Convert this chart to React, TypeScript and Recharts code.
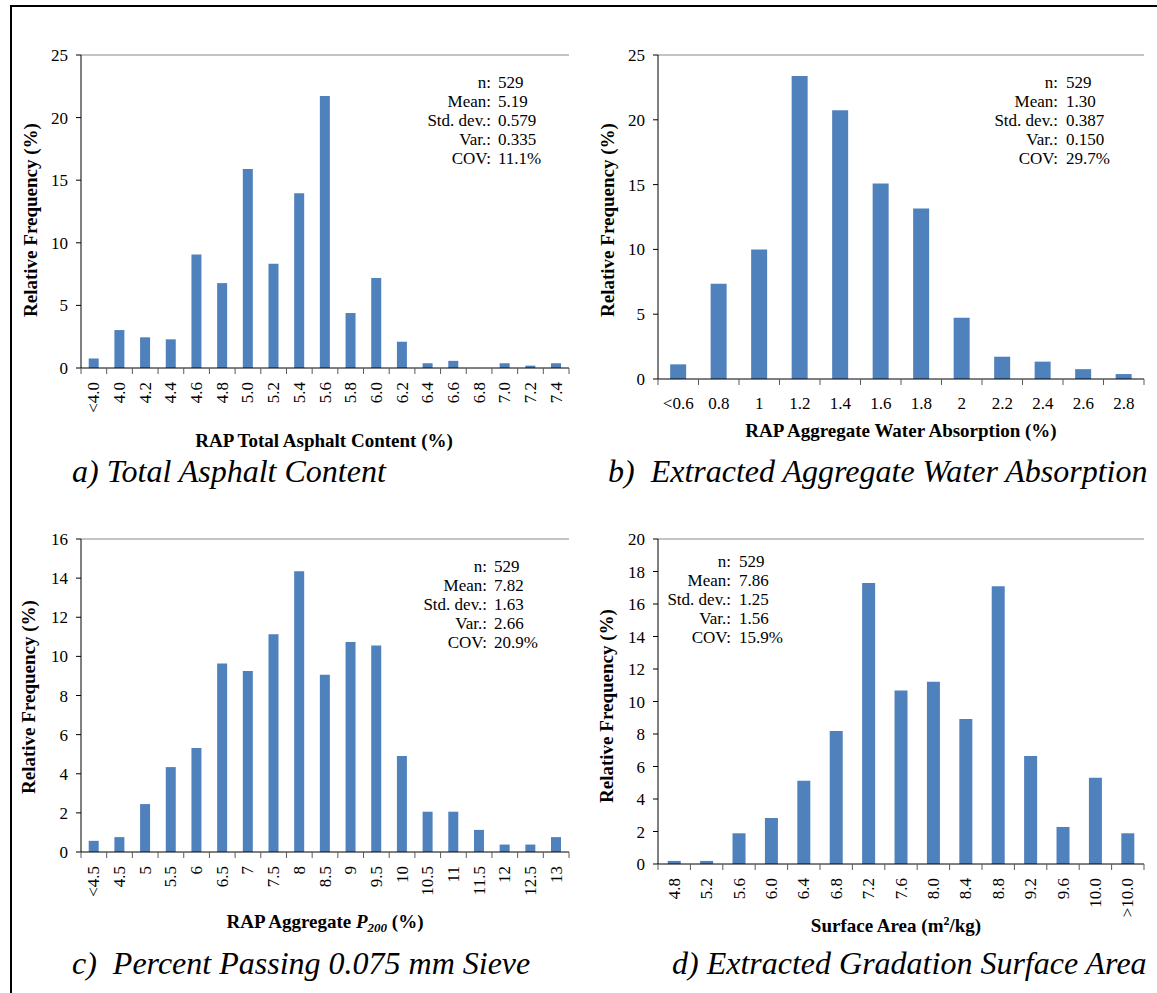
import React from 'react';
import { BarChart, Bar, XAxis, YAxis, ReferenceLine } from 'recharts';

const FONT = '"Liberation Serif", "Times New Roman", Times, serif';
const BAR_COLOR = '#4F81BD';
const FRAME_GRAY = '#898989';

// a) Total asphalt content
const asphaltCategories = ['<4.0', '4.0', '4.2', '4.4', '4.6', '4.8', '5.0', '5.2', '5.4', '5.6', '5.8', '6.0', '6.2', '6.4', '6.6', '6.8', '7.0', '7.2', '7.4'];
const asphaltFrequency = [0.76, 3.03, 2.45, 2.29, 9.07, 6.78, 15.9, 8.32, 13.96, 21.73, 4.39, 7.18, 2.1, 0.38, 0.57, 0, 0.38, 0.19, 0.38];
const asphaltTicks = [0, 5, 10, 15, 20, 25];
const asphaltStats = ['529', '5.19', '0.579', '0.335', '11.1%'];

// b) Extracted aggregate water absorption
const absorptionCategories = ['<0.6', '0.8', '1', '1.2', '1.4', '1.6', '1.8', '2', '2.2', '2.4', '2.6', '2.8'];
const absorptionFrequency = [1.13, 7.35, 10.0, 23.38, 20.73, 15.08, 13.15, 4.73, 1.72, 1.34, 0.76, 0.38];
const absorptionTicks = [0, 5, 10, 15, 20, 25];
const absorptionStats = ['529', '1.30', '0.387', '0.150', '29.7%'];

// c) Percent passing 0.075 mm sieve
const p200Categories = ['<4.5', '4.5', '5', '5.5', '6', '6.5', '7', '7.5', '8', '8.5', '9', '9.5', '10', '10.5', '11', '11.5', '12', '12.5', '13'];
const p200Frequency = [0.57, 0.76, 2.45, 4.34, 5.32, 9.63, 9.25, 11.13, 14.35, 9.06, 10.73, 10.56, 4.91, 2.06, 2.06, 1.13, 0.38, 0.38, 0.76];
const p200Ticks = [0, 2, 4, 6, 8, 10, 12, 14, 16];
const p200Stats = ['529', '7.82', '1.63', '2.66', '20.9%'];

// d) Extracted gradation surface area
const surfaceCategories = ['4.8', '5.2', '5.6', '6.0', '6.4', '6.8', '7.2', '7.6', '8.0', '8.4', '8.8', '9.2', '9.6', '10.0', '>10.0'];
const surfaceFrequency = [0.19, 0.19, 1.89, 2.83, 5.13, 8.18, 17.29, 10.67, 11.22, 8.92, 17.09, 6.65, 2.28, 5.31, 1.89];
const surfaceTicks = [0, 2, 4, 6, 8, 10, 12, 14, 16, 18, 20];
const surfaceStats = ['529', '7.86', '1.25', '1.56', '15.9%'];

const statLabels = ['n:', 'Mean:', 'Std. dev.:', 'Var.:', 'COV:'];

type Box = { left: number; top: number; width: number; height: number };
type Plot = { x1: number; y1: number; x2: number; y2: number };

function makeTick(n: number, band: number, rotated: boolean) {
  return (props: any) => {
    const { x, y, payload } = props;
    const index = props.index ?? (payload && payload.index) ?? 0;
    const half = band / 2;
    const ly = rotated ? y + 14 : y + 24;
    return (
      <g>
        <line x1={x - half} y1={y} x2={x - half} y2={y + 6} stroke="#5a5a5a" strokeWidth={1} />
        {index === n - 1 && <line x1={x + half} y1={y} x2={x + half} y2={y + 6} stroke="#5a5a5a" strokeWidth={1} />}
        {rotated ? (
          <text
            x={x}
            y={ly}
            transform={`rotate(-90 ${x} ${ly})`}
            textAnchor="end"
            dominantBaseline="central"
            fontFamily={FONT}
            fontSize={17}
            fill="#000"
          >
            {payload.value}
          </text>
        ) : (
          <text x={x} y={ly} textAnchor="middle" dominantBaseline="central" fontFamily={FONT} fontSize={17} fill="#000">
            {payload.value}
          </text>
        )}
      </g>
    );
  };
}

function HistogramPanel(props: {
  box: Box;
  plot: Plot;
  categories: string[];
  values: number[];
  yTicks: number[];
  rotated: boolean;
  xHeight: number;
}) {
  const { box, plot, categories, values, yTicks, rotated, xHeight } = props;
  const yWidth = 40;
  const data = categories.map((c, i) => ({ bin: c, freq: values[i] }));
  const margin = {
    top: plot.y1 - box.top,
    left: plot.x1 - box.left - yWidth,
    right: box.left + box.width - plot.x2,
    bottom: box.top + box.height - plot.y2 - xHeight,
  };
  const band = (plot.x2 - plot.x1) / categories.length;
  const yMax = yTicks[yTicks.length - 1];
  return (
    <div style={{ position: 'absolute', left: box.left, top: box.top, width: box.width, height: box.height }}>
      <BarChart width={box.width} height={box.height} data={data} margin={margin} barCategoryGap="30%">
        <XAxis
          dataKey="bin"
          interval={0}
          height={xHeight}
          tickLine={false}
          tickSize={0}
          tickMargin={0}
          axisLine={{ stroke: '#000' }}
          tick={makeTick(categories.length, band, rotated)}
        />
        <YAxis
          width={yWidth}
          domain={[0, yMax]}
          ticks={yTicks}
          interval={0}
          tickSize={5}
          tickMargin={8}
          tickLine={{ stroke: '#000' }}
          axisLine={{ stroke: '#000' }}
          tick={{ fontFamily: FONT, fontSize: 17, fill: '#000' }}
        />
        <YAxis
          yAxisId="frame"
          orientation="right"
          width={0}
          domain={[0, 1]}
          tick={false}
          tickLine={false}
          axisLine={{ stroke: FRAME_GRAY }}
        />
        <ReferenceLine y={yMax} stroke={FRAME_GRAY} />
        <Bar dataKey="freq" fill={BAR_COLOR} isAnimationActive={false} />
      </BarChart>
    </div>
  );
}

function Stats(props: { values: string[]; colonX: number; valueX: number; firstCenter: number }) {
  const { values, colonX, valueX, firstCenter } = props;
  const lh = 19;
  return (
    <>
      {statLabels.map((label, i) => (
        <React.Fragment key={label}>
          <div
            style={{
              position: 'absolute',
              left: colonX - 200,
              width: 200,
              top: firstCenter - lh / 2 + i * lh,
              height: lh,
              lineHeight: `${lh}px`,
              textAlign: 'right',
              fontFamily: FONT,
              fontSize: 17,
              whiteSpace: 'nowrap',
            }}
          >
            {label}
          </div>
          <div
            style={{
              position: 'absolute',
              left: valueX,
              top: firstCenter - lh / 2 + i * lh,
              height: lh,
              lineHeight: `${lh}px`,
              fontFamily: FONT,
              fontSize: 17,
              whiteSpace: 'nowrap',
            }}
          >
            {values[i]}
          </div>
        </React.Fragment>
      ))}
    </>
  );
}

function CenterText(props: { x: number; y: number; rotate?: boolean; children: React.ReactNode; size?: number }) {
  const { x, y, rotate, children, size } = props;
  return (
    <div
      style={{
        position: 'absolute',
        left: x,
        top: y,
        transform: `translate(-50%, -50%)${rotate ? ' rotate(-90deg)' : ''}`,
        fontFamily: FONT,
        fontWeight: 'bold',
        fontSize: size ?? 19,
        whiteSpace: 'nowrap',
        lineHeight: 1,
      }}
    >
      {children}
    </div>
  );
}

function Caption(props: { x: number; y: number; text: string }) {
  return (
    <div
      style={{
        position: 'absolute',
        left: props.x,
        top: props.y,
        fontFamily: FONT,
        fontStyle: 'italic',
        fontSize: 32,
        lineHeight: '32px',
        whiteSpace: 'pre',
      }}
    >
      {props.text}
    </div>
  );
}

export default function App() {
  return (
    <div
      style={{
        position: 'absolute',
        left: 0,
        top: 0,
        width: 1157,
        height: 993,
        overflow: 'hidden',
        background: '#fff',
        color: '#000',
      }}
    >
      <div
        style={{
          position: 'absolute',
          left: 10,
          top: 5,
          width: 1300,
          height: 1100,
          borderTop: '2px solid #000',
          borderLeft: '2px solid #000',
          boxSizing: 'border-box',
        }}
      />

      <HistogramPanel
        box={{ left: 0, top: 0, width: 580, height: 480 }}
        plot={{ x1: 81, y1: 55, x2: 569, y2: 368 }}
        categories={asphaltCategories}
        values={asphaltFrequency}
        yTicks={asphaltTicks}
        rotated
        xHeight={60}
      />
      <HistogramPanel
        box={{ left: 580, top: 0, width: 577, height: 480 }}
        plot={{ x1: 658, y1: 55, x2: 1144, y2: 379 }}
        categories={absorptionCategories}
        values={absorptionFrequency}
        yTicks={absorptionTicks}
        rotated={false}
        xHeight={40}
      />
      <HistogramPanel
        box={{ left: 0, top: 480, width: 580, height: 513 }}
        plot={{ x1: 81, y1: 539, x2: 569, y2: 852 }}
        categories={p200Categories}
        values={p200Frequency}
        yTicks={p200Ticks}
        rotated
        xHeight={60}
      />
      <HistogramPanel
        box={{ left: 580, top: 480, width: 577, height: 513 }}
        plot={{ x1: 658, y1: 539, x2: 1144, y2: 864 }}
        categories={surfaceCategories}
        values={surfaceFrequency}
        yTicks={surfaceTicks}
        rotated
        xHeight={60}
      />

      <Stats values={asphaltStats} colonX={491} valueX={498} firstCenter={82} />
      <Stats values={absorptionStats} colonX={1058} valueX={1066} firstCenter={82} />
      <Stats values={p200Stats} colonX={487} valueX={494} firstCenter={566} />
      <Stats values={surfaceStats} colonX={731} valueX={739} firstCenter={561} />

      <CenterText x={30} y={220} rotate>Relative Frequency (%)</CenterText>
      <CenterText x={607} y={220} rotate>Relative Frequency (%)</CenterText>
      <CenterText x={28} y={697} rotate>Relative Frequency (%)</CenterText>
      <CenterText x={606} y={706} rotate>Relative Frequency (%)</CenterText>

      <CenterText x={324} y={440}>RAP Total Asphalt Content (%)</CenterText>
      <CenterText x={901} y={430}>RAP Aggregate Water Absorption (%)</CenterText>
      <CenterText x={325} y={923}>
        RAP Aggregate{' '}
        <i>
          P<sub style={{ fontSize: 13 }}>200</sub>
        </i>{' '}
        (%)
      </CenterText>
      <CenterText x={896} y={925}>
        Surface Area (m<sup style={{ fontSize: 12 }}>2</sup>/kg)
      </CenterText>

      <Caption x={72} y={455} text="a) Total Asphalt Content" />
      <Caption x={608} y={455} text="b)  Extracted Aggregate Water Absorption" />
      <Caption x={72} y={947} text="c)  Percent Passing 0.075 mm Sieve" />
      <Caption x={672} y={947} text="d) Extracted Gradation Surface Area" />
    </div>
  );
}
